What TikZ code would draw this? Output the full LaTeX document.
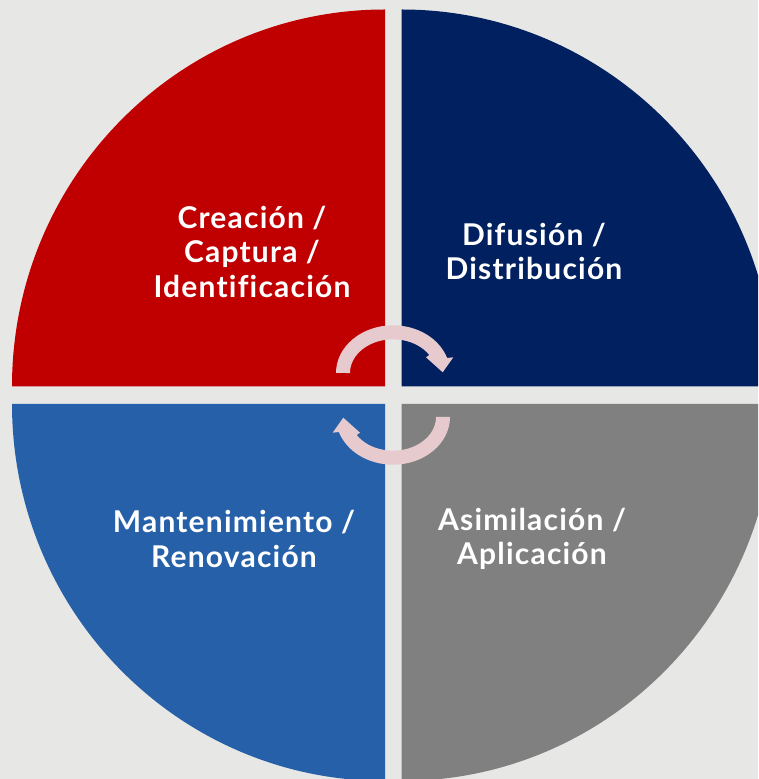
\documentclass[tikz,border=0pt]{standalone}
\usepackage{fontspec}
\setmainfont[Ligatures=NoCommon,LetterSpace=4]{Lato}
\definecolor{bgc}{HTML}{E7E7E5}
\definecolor{redq}{HTML}{C00000}
\definecolor{navyq}{HTML}{002060}
\definecolor{blueq}{HTML}{2560A8}
\definecolor{grayq}{HTML}{808080}
\definecolor{arrowpink}{HTML}{E6CACD}
\newcommand\mycyclearrow{%
  \fill[arrowpink] (336,406) arc[start angle=180,end angle=18.3,x radius=57,y radius=47.7]
    -- (453.3,421.7) -- (442.7,406.7) -- (426,421.7) -- (429.3,424)
    arc[start angle=32.3,end angle=180,x radius=43,y radius=33.7] -- cycle;}
\begin{document}
\begin{tikzpicture}[x=1pt,y=1pt,
  lbl/.style={text=white,font=\bfseries\fontsize{30}{34.5}\selectfont,align=center,inner sep=0pt}]
\useasboundingbox (0,0) rectangle (758,779);
\clip (0,0) rectangle (758,779);
\fill[bgc] (0,0) rectangle (758,779);
% quadrants
\fill[redq] (385,392.5) -- (12,392.5) arc[start angle=180,end angle=90,x radius=373,y radius=377] -- cycle;
\fill[navyq] (401.5,392.5) -- (401.5,769.5) arc[start angle=90,end angle=0,x radius=373,y radius=377] -- cycle;
\fill[blueq] (385,375) -- (12,375) arc[start angle=180,end angle=270,x radius=373,y radius=377] -- cycle;
\fill[grayq] (401.5,375) -- (401.5,-2) arc[start angle=270,end angle=360,x radius=373,y radius=377] -- cycle;
% cycle arrows
\mycyclearrow
\begin{scope}[rotate around={180:(393,384)}]
\mycyclearrow
\end{scope}
% labels
\node[lbl] (t1) at (252,527.5) {Creación /\\Captura /\\Identificación};
\node[lbl] (t2) at (534,527.5) {Difusión /\\Distribución};
\node[lbl] (t3) at (234,240) {Mantenimiento /\\Renovación};
\node[lbl] (t4) at (532,240) {Asimilación /\\Aplicación};
\end{tikzpicture}
\end{document}
